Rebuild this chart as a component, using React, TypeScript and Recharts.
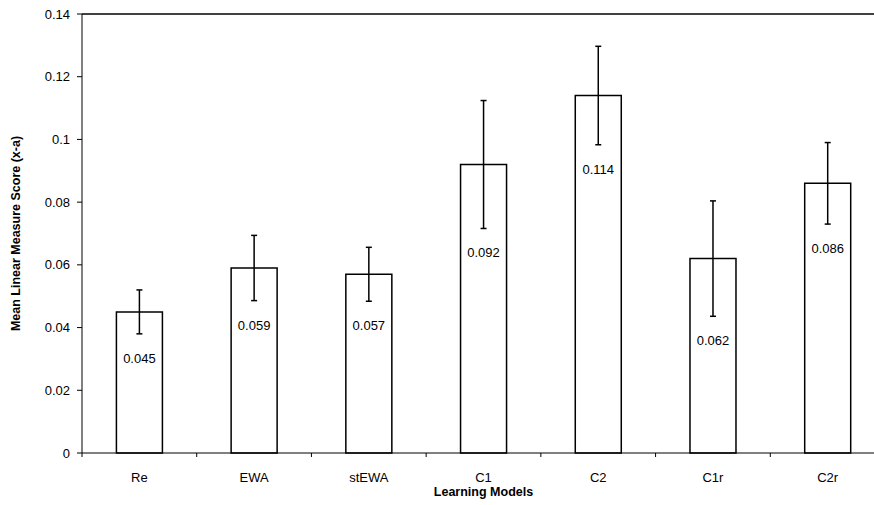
import React from "react";
import { BarChart, Bar, XAxis, YAxis, ErrorBar, LabelList, ReferenceLine } from "recharts";

const MODELS = ["Re", "EWA", "stEWA", "C1", "C2", "C1r", "C2r"];
const SCORES = [0.045, 0.059, 0.057, 0.092, 0.114, 0.062, 0.086];
const ERRORS = [0.007, 0.0104, 0.0086, 0.0204, 0.0157, 0.0184, 0.013];
const Y_TICKS = [0, 0.02, 0.04, 0.06, 0.08, 0.1, 0.12, 0.14];

const data = MODELS.map((m, i) => ({ model: m, score: SCORES[i], err: ERRORS[i] }));

const FONT = "'Liberation Sans', Arial, sans-serif";

const CategoryTick = (props: any) => {
  const { x, y, payload, index } = props;
  const half = payload.offset || 0;
  return (
    <g>
      <line x1={x - half} x2={x - half} y1={y - 8} y2={y - 4} stroke="#000" strokeWidth={1} />
      {index === MODELS.length - 1 && (
        <line x1={x + half} x2={x + half} y1={y - 8} y2={y - 4} stroke="#000" strokeWidth={1} />
      )}
      <text x={x} y={y + 21} textAnchor="middle" fontSize={13} fill="#000" fontFamily={FONT}>
        {payload.value}
      </text>
    </g>
  );
};

const ValueLabel = (props: any) => {
  const { x, y, width, height, index } = props;
  const d = data[index];
  const lowY = y + height * (d.err / d.score);
  return (
    <text x={x + width / 2} y={lowY + 29} textAnchor="middle" fontSize={13} fill="#000" fontFamily={FONT}>
      {d.score.toFixed(3)}
    </text>
  );
};

export default function App() {
  return (
    <div style={{ position: "absolute", left: 0, top: 0, width: 874, height: 505, overflow: "hidden", background: "#fff" }}>
      <BarChart
        width={900}
        height={505}
        data={data}
        margin={{ top: 14, right: 15, left: 0, bottom: 0 }}
        barCategoryGap="30%"
      >
        <XAxis
          dataKey="model"
          height={52}
          stroke="#000"
          tickLine={false}
          tick={<CategoryTick />}
          interval={0}
          label={{
            content: (p: any) => {
              const vb = p.viewBox;
              return (
                <text x={vb.x + vb.width / 2} y={vb.y + 43} textAnchor="middle" fontSize={12.5} fontWeight="bold" fill="#000" fontFamily={FONT}>
                  Learning Models
                </text>
              );
            },
          }}
        />
        <YAxis
          width={82}
          domain={[0, 0.14]}
          ticks={Y_TICKS}
          interval={0}
          stroke="#000"
          tickSize={5}
          tickMargin={7}
          tick={{ fontSize: 13, fill: "#000", fontFamily: FONT }}
          tickFormatter={(v: number) => String(v)}
          label={{
            content: (p: any) => {
              const vb = p.viewBox;
              const cy = vb.y + vb.height / 2;
              return (
                <text x={20} y={cy} transform={`rotate(-90, 20, ${cy})`} textAnchor="middle" fontSize={12.5} fontWeight="bold" fill="#000" fontFamily={FONT}>
                  Mean Linear Measure Score (x-a)
                </text>
              );
            },
          }}
        />
        <ReferenceLine y={0.14} stroke="#000" strokeWidth={1.5} />
        <Bar dataKey="score" fill="#fff" stroke="#000" strokeWidth={1.5} isAnimationActive={false}>
          <ErrorBar dataKey="err" width={3} stroke="#000" strokeWidth={1.5} direction="y" />
          <LabelList dataKey="score" content={<ValueLabel />} />
        </Bar>
      </BarChart>
    </div>
  );
}
